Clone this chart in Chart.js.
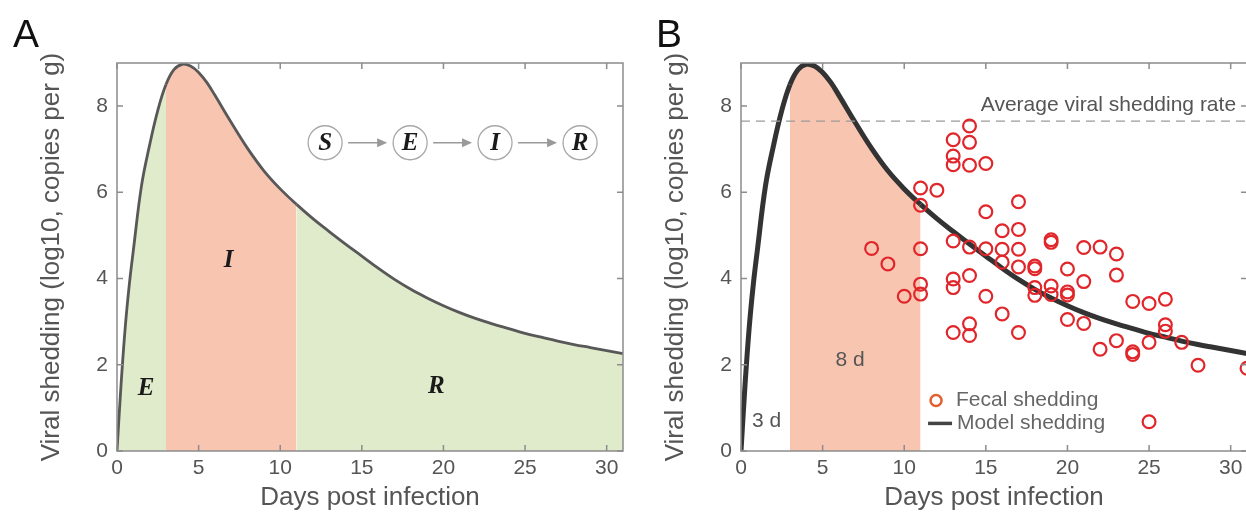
<!DOCTYPE html>
<html lang="en">
<head>
  <meta charset="UTF-8">
  <title>Viral shedding model</title>
  <script src="https://cdn.jsdelivr.net/npm/chart.js"></script>
  <style>
    body { margin: 0; background: #fff; }
    #wrap { position: relative; width: 1246px; height: 515px; overflow: hidden; }
    canvas { position: absolute; top: 0; }
    #chartA { left: 0; }
    #chartB { left: 624px; }
  </style>
</head>
<body>
<div id="wrap">
  <canvas id="chartA" width="640" height="515"></canvas>
  <canvas id="chartB" width="640" height="515"></canvas>
</div>
<script>
  // model shedding curve (days post infection, log10 copies per g)
  var modelDays = [0, 0.25, 0.5, 0.75, 1, 1.5, 2, 2.5, 3, 3.5, 4, 4.5, 5, 5.5, 6, 7, 8, 9, 10,
                   11, 12, 13, 14, 15, 16, 17, 18, 19, 20, 21, 22, 23, 24, 25, 26, 27, 28, 29, 30, 31];
  var modelLoad = [0, 1.55, 2.85, 3.85, 4.65, 6.15, 7.1, 7.9, 8.5, 8.85, 8.97, 8.93, 8.78, 8.55, 8.25, 7.62, 7.02, 6.5, 6.08,
                   5.72, 5.39, 5.09, 4.8, 4.52, 4.24, 3.98, 3.75, 3.55, 3.37, 3.21, 3.07, 2.95, 2.84, 2.73, 2.64, 2.55, 2.47, 2.4, 2.33, 2.26];

  // fecal shedding measurements (panel B)
  var fecalDays = [8, 9, 10,
                   11, 11, 11, 11, 11, 12,
                   13, 13, 13, 13, 13, 13, 13,
                   14, 14, 14, 14, 14, 14, 14,
                   15, 15, 15, 15,
                   16, 16, 16, 16,
                   17, 17, 17, 17, 17,
                   18, 18, 18, 18,
                   19, 19, 19, 19,
                   20, 20, 20, 20,
                   21, 21, 21, 22, 22,
                   23, 23, 23, 24, 24, 24,
                   25, 25, 25, 26, 26, 26, 27, 28, 31];
  var fecalLoad = [4.7, 4.34, 3.59,
                   6.1, 5.7, 4.69, 3.87, 3.64, 6.05,
                   7.22, 6.84, 6.64, 4.87, 3.99, 3.79, 2.75,
                   7.54, 7.16, 6.63, 4.73, 4.07, 2.95, 2.68,
                   6.67, 5.55, 4.69, 3.59,
                   5.11, 4.68, 4.38, 3.18,
                   5.78, 5.14, 4.68, 4.27, 2.75,
                   4.29, 4.23, 3.79, 3.61,
                   4.9, 4.84, 3.83, 3.63,
                   4.22, 3.69, 3.62, 3.05,
                   4.72, 3.93, 2.96, 4.73, 2.36,
                   4.57, 4.08, 2.56, 3.47, 2.3, 2.24,
                   3.42, 2.52, 0.68, 3.52, 2.93, 2.78, 2.52, 1.99, 1.92];

  var averageRate = 7.65;
  var incubationEnd = 3;     // E -> I
  var infectiousEnd = 11;    // I -> R

  var xTicks = [0, 5, 10, 15, 20, 25, 30];
  var yTicks = [0, 2, 4, 6, 8];

  var GREEN = '#dfebcb';
  var SALMON = '#f8c5b1';
  var FONT = '"Liberation Sans", Arial, sans-serif';
  var SERIF = '"Liberation Serif", "DejaVu Serif", serif';

  Chart.defaults.font.family = FONT;
  Chart.defaults.color = '#555';

  function points(xs, ys) {
    return xs.map(function(x, i) { return { x: x, y: ys[i] }; });
  }

  function inInfectious(ctx) {
    return ctx.p0.parsed.x >= incubationEnd && ctx.p1.parsed.x <= infectiousEnd;
  }

  function makeScales() {
    return {
      x: {
        type: 'linear', min: 0, max: 31,
        afterBuildTicks: function(s) { s.ticks = xTicks.map(function(v) { return { value: v }; }); },
        afterFit: function(s) { s.height = 64; },
        grid: { display: false, drawTicks: false },
        border: { display: false },
        ticks: { font: { size: 21 }, color: '#555', padding: 5, maxRotation: 0 },
        title: { display: true, text: 'Days post infection', color: '#555', font: { size: 26 }, padding: { top: 0, bottom: 2 } }
      },
      y: {
        type: 'linear', min: 0, max: 9,
        afterBuildTicks: function(s) { s.ticks = yTicks.map(function(v) { return { value: v }; }); },
        afterFit: function(s) { s.width = 117; },
        grid: { display: false, drawTicks: false },
        border: { display: false },
        ticks: { font: { size: 21 }, color: '#555', padding: 9 },
        title: { display: true, text: 'Viral shedding (log10, copies per g)', color: '#555', font: { size: 26 }, padding: { top: 36, bottom: 0 } }
      }
    };
  }

  // box with inward tick marks on all four sides, plus panel letter
  function framePlugin(letter, letterX) {
    return {
      id: 'frame' + letter,
      afterDatasetsDraw: function(chart) {
        var ctx = chart.ctx, a = chart.chartArea, xs = chart.scales.x, ys = chart.scales.y;
        ctx.save();
        ctx.strokeStyle = '#8c8c8c';
        ctx.lineWidth = 1.5;
        ctx.strokeRect(a.left, a.top, a.right - a.left, a.bottom - a.top);
        ctx.beginPath();
        xTicks.forEach(function(v) {
          var px = xs.getPixelForValue(v);
          ctx.moveTo(px, a.bottom); ctx.lineTo(px, a.bottom - 6);
          ctx.moveTo(px, a.top); ctx.lineTo(px, a.top + 6);
        });
        yTicks.forEach(function(v) {
          var py = ys.getPixelForValue(v);
          ctx.moveTo(a.left, py); ctx.lineTo(a.left + 6, py);
          ctx.moveTo(a.right, py); ctx.lineTo(a.right - 6, py);
        });
        ctx.stroke();
        ctx.fillStyle = '#111';
        ctx.font = '39px ' + FONT;
        ctx.textAlign = 'left';
        ctx.textBaseline = 'alphabetic';
        ctx.fillText(letter, letterX, 47);
        ctx.restore();
      }
    };
  }

  // ---- panel A ----
  var phaseLabels = [
    { text: 'E', x: 1.78, y: 1.46 },
    { text: 'I', x: 6.84, y: 4.42 },
    { text: 'R', x: 19.56, y: 1.49 }
  ];
  var compartments = ['S', 'E', 'I', 'R'];
  var compartmentX = [12.75, 17.96, 23.16, 28.37];
  var compartmentY = 7.15;

  var notesA = {
    id: 'notesA',
    afterDatasetsDraw: function(chart) {
      var ctx = chart.ctx, xs = chart.scales.x, ys = chart.scales.y;
      ctx.save();
      ctx.fillStyle = '#1a1a1a';
      ctx.font = 'italic bold 25px ' + SERIF;
      ctx.textAlign = 'center';
      ctx.textBaseline = 'middle';
      phaseLabels.forEach(function(l) {
        ctx.fillText(l.text, xs.getPixelForValue(l.x), ys.getPixelForValue(l.y));
      });
      var r = 17, cy = ys.getPixelForValue(compartmentY);
      compartments.forEach(function(c, i) {
        var cx = xs.getPixelForValue(compartmentX[i]);
        ctx.beginPath();
        ctx.arc(cx, cy, r, 0, Math.PI * 2);
        ctx.fillStyle = '#fff';
        ctx.fill();
        ctx.strokeStyle = '#a8a8a8';
        ctx.lineWidth = 1.3;
        ctx.stroke();
        ctx.fillStyle = '#1a1a1a';
        ctx.fillText(c, cx, cy + 1);
        if (i < compartments.length - 1) {
          var x0 = cx + r + 6, x1 = xs.getPixelForValue(compartmentX[i + 1]) - r - 6;
          ctx.strokeStyle = '#9a9a9a';
          ctx.lineWidth = 1.6;
          ctx.beginPath();
          ctx.moveTo(x0, cy); ctx.lineTo(x1 - 6, cy);
          ctx.stroke();
          ctx.fillStyle = '#9a9a9a';
          ctx.beginPath();
          ctx.moveTo(x1, cy); ctx.lineTo(x1 - 10, cy - 4.5); ctx.lineTo(x1 - 10, cy + 4.5);
          ctx.closePath();
          ctx.fill();
          ctx.fillStyle = '#1a1a1a';
        }
      });
      ctx.restore();
    }
  };

  new Chart(document.getElementById('chartA'), {
    type: 'line',
    data: {
      datasets: [{
        data: points(modelDays, modelLoad),
        borderColor: '#585858',
        borderWidth: 2.8,
        pointRadius: 0,
        tension: 0.4,
        fill: 'origin',
        backgroundColor: GREEN,
        segment: { backgroundColor: function(ctx) { return inInfectious(ctx) ? SALMON : GREEN; } }
      }]
    },
    options: {
      responsive: false,
      animation: false,
      layout: { padding: { top: 63, right: 17, bottom: 0, left: 0 } },
      plugins: { legend: { display: false }, tooltip: { enabled: false } },
      scales: makeScales()
    },
    plugins: [framePlugin('A', 13), notesA]
  });

  // ---- panel B ----
  var notesB = {
    id: 'notesB',
    afterDatasetsDraw: function(chart) {
      var ctx = chart.ctx, xs = chart.scales.x, ys = chart.scales.y;
      ctx.save();
      ctx.font = '21px ' + FONT;
      ctx.textBaseline = 'middle';
      ctx.fillStyle = '#555';
      ctx.textAlign = 'right';
      ctx.fillText('Average viral shedding rate', xs.getPixelForValue(30.33), ys.getPixelForValue(8.03));
      ctx.textAlign = 'center';
      ctx.fillText('8 d', xs.getPixelForValue(6.68), ys.getPixelForValue(2.11));
      ctx.fillText('3 d', xs.getPixelForValue(1.57), ys.getPixelForValue(0.68));

      // legend
      ctx.textAlign = 'left';
      ctx.fillStyle = '#666';
      ctx.beginPath();
      ctx.arc(xs.getPixelForValue(11.95), ys.getPixelForValue(1.17), 5.5, 0, Math.PI * 2);
      ctx.strokeStyle = '#e2602d';
      ctx.lineWidth = 2.5;
      ctx.stroke();
      ctx.fillText('Fecal shedding', xs.getPixelForValue(13.17), ys.getPixelForValue(1.17));
      ctx.beginPath();
      ctx.moveTo(xs.getPixelForValue(11.46), ys.getPixelForValue(0.64));
      ctx.lineTo(xs.getPixelForValue(12.93), ys.getPixelForValue(0.64));
      ctx.strokeStyle = '#444';
      ctx.lineWidth = 3.5;
      ctx.stroke();
      ctx.fillText('Model shedding', xs.getPixelForValue(13.23), ys.getPixelForValue(0.64));
      ctx.restore();
    }
  };

  new Chart(document.getElementById('chartB'), {
    type: 'line',
    data: {
      datasets: [{
        label: 'Fecal shedding',
        data: points(fecalDays, fecalLoad),
        showLine: false,
        pointRadius: 6.4,
        pointBorderWidth: 2.2,
        pointBorderColor: '#e0262a',
        pointBackgroundColor: 'rgba(0,0,0,0)',
        order: 0
      }, {
        label: 'Average viral shedding rate',
        data: [{ x: 0, y: averageRate }, { x: 31, y: averageRate }],
        borderColor: '#9a9a9a',
        borderWidth: 1.3,
        borderDash: [9, 6],
        pointRadius: 0,
        order: 1
      }, {
        label: 'Model shedding',
        data: points(modelDays, modelLoad),
        borderColor: '#333',
        borderWidth: 5,
        pointRadius: 0,
        tension: 0.4,
        fill: 'origin',
        backgroundColor: 'rgba(0,0,0,0)',
        segment: { backgroundColor: function(ctx) { return inInfectious(ctx) ? SALMON : 'rgba(0,0,0,0)'; } },
        order: 2
      }]
    },
    options: {
      responsive: false,
      animation: false,
      layout: { padding: { top: 63, right: 17, bottom: 0, left: 0 } },
      plugins: { legend: { display: false }, tooltip: { enabled: false } },
      scales: makeScales()
    },
    plugins: [framePlugin('B', 32), notesB]
  });
</script>
</body>
</html>
